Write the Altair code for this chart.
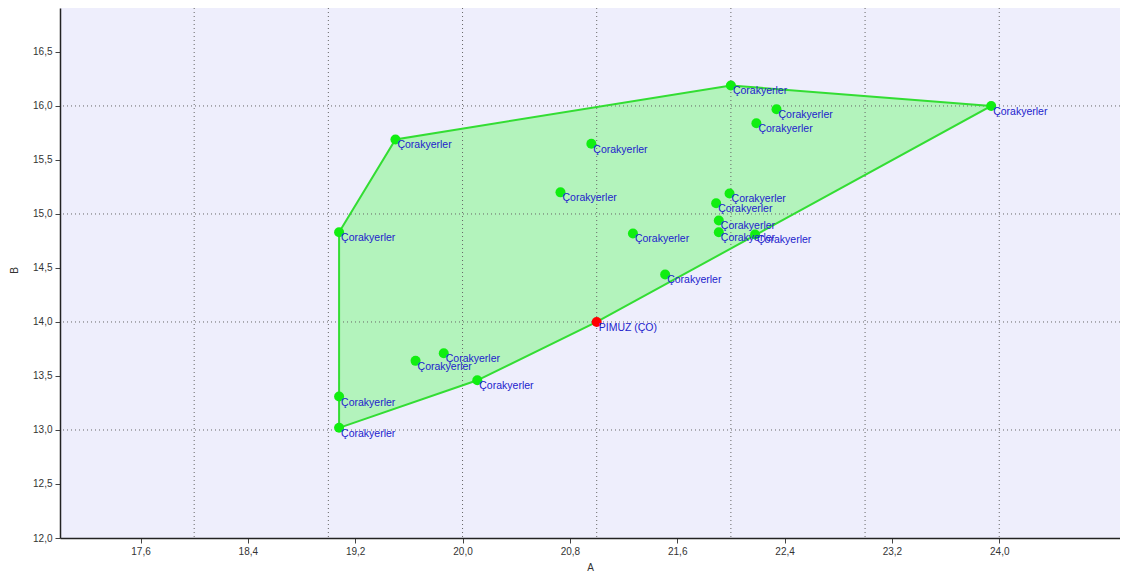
import altair as alt
import pandas as pd

# ---- data ----
xs = [22.00, 23.94, 22.34, 22.19, 19.50, 20.96, 20.73, 21.99, 21.89, 21.91,
      21.91, 22.18, 19.08, 21.27, 21.51, 21.00, 19.65, 19.86, 20.11, 19.08, 19.08]
ys = [16.19, 16.00, 15.97, 15.84, 15.69, 15.65, 15.20, 15.19, 15.10, 14.94,
      14.83, 14.81, 14.83, 14.82, 14.44, 14.00, 13.64, 13.71, 13.46, 13.31, 13.02]
names = ["Çorakyerler"] * 15 + ["PIMUZ (ÇO)"] + ["Çorakyerler"] * 5
kinds = ["normal"] * 15 + ["highlight"] + ["normal"] * 5

x_ticks = [17.6, 18.4, 19.2, 20.0, 20.8, 21.6, 22.4, 23.2, 24.0]
y_ticks = [12.0, 12.5, 13.0, 13.5, 14.0, 14.5, 15.0, 15.5, 16.0, 16.5]
x_grid = [18, 19, 20, 21, 22, 23, 24]
y_grid = [13, 14, 15, 16]
x_domain = [17.0, 24.9]
y_domain = [12.0, 16.907]

pts = pd.DataFrame({"A": xs, "B": ys, "name": names, "kind": kinds})

# convex hull (monotone chain) of the points
P = sorted(set(zip(xs, ys)))
def cross(o, a, b):
    return (a[0]-o[0])*(b[1]-o[1]) - (a[1]-o[1])*(b[0]-o[0])
lower, upper = [], []
for p in P:
    while len(lower) >= 2 and cross(lower[-2], lower[-1], p) <= 0:
        lower.pop()
    lower.append(p)
for p in reversed(P):
    while len(upper) >= 2 and cross(upper[-2], upper[-1], p) <= 0:
        upper.pop()
    upper.append(p)
hull = lower[:-1] + upper[:-1]
hull = hull + [hull[0]]
hull_df = pd.DataFrame({"A": [h[0] for h in hull], "B": [h[1] for h in hull],
                        "i": list(range(len(hull)))})

comma = "replace(format(datum.value, '.1f'), '.', ',')"
FONT = "Liberation Sans"

xscale = alt.Scale(domain=x_domain, nice=False, zero=False)
yscale = alt.Scale(domain=y_domain, nice=False, zero=False)

xaxis = alt.Axis(values=x_ticks, labelExpr=comma, grid=False, title="A",
                 domainColor="#222222", domainWidth=1.5, tickColor="#444444",
                 tickSize=5, labelColor="#333333", labelFontSize=10, labelFont=FONT,
                 titleFont=FONT, titleFontSize=10, titleFontWeight="normal",
                 titleColor="#333333", titlePadding=6, labelPadding=3)
yaxis = alt.Axis(values=y_ticks, labelExpr=comma, grid=False, title="B",
                 domainColor="#222222", domainWidth=1.5, tickColor="#444444",
                 tickSize=5, labelColor="#333333", labelFontSize=10, labelFont=FONT,
                 titleFont=FONT, titleFontSize=10, titleFontWeight="normal",
                 titleColor="#333333", titleX=-41, titleY=262, labelPadding=3)

fill = alt.Chart(hull_df).mark_line(
    fill="#b3f3bc", strokeWidth=0
).encode(
    x=alt.X("A:Q", scale=xscale, axis=xaxis),
    y=alt.Y("B:Q", scale=yscale, axis=yaxis),
    order="i:Q",
)

vgrid = alt.Chart(pd.DataFrame({"g": x_grid})).mark_rule(
    color="#666666", strokeDash=[1, 3], strokeWidth=1
).encode(x=alt.X("g:Q", scale=xscale))
hgrid = alt.Chart(pd.DataFrame({"g": y_grid})).mark_rule(
    color="#666666", strokeDash=[1, 3], strokeWidth=1
).encode(y=alt.Y("g:Q", scale=yscale))

edge = alt.Chart(hull_df).mark_line(color="#33dd33", strokeWidth=2).encode(
    x=alt.X("A:Q", scale=xscale),
    y=alt.Y("B:Q", scale=yscale),
    order="i:Q",
)

dots = alt.Chart(pts).mark_circle(size=100, opacity=1).encode(
    x=alt.X("A:Q", scale=xscale),
    y=alt.Y("B:Q", scale=yscale),
    color=alt.Color("kind:N", scale=alt.Scale(domain=["normal", "highlight"],
                                              range=["#11ee11", "#ff0000"]),
                    legend=None),
)

labels = alt.Chart(pts).mark_text(
    align="left", baseline="middle", dx=2, dy=6, color="#2222cc",
    font=FONT, fontSize=10.5
).encode(
    x=alt.X("A:Q", scale=xscale),
    y=alt.Y("B:Q", scale=yscale),
    text="name:N",
)

chart = alt.layer(fill, vgrid, hgrid, edge, dots, labels).properties(
    width=1060, height=530,
    autosize=alt.AutoSizeParams(type="none"),
    padding={"left": 52, "top": 0, "right": 0, "bottom": 39},
).configure_view(fill="#eeeefc", strokeWidth=0)

chart.save("out.html", embed_options={"renderer": "svg", "actions": False})
